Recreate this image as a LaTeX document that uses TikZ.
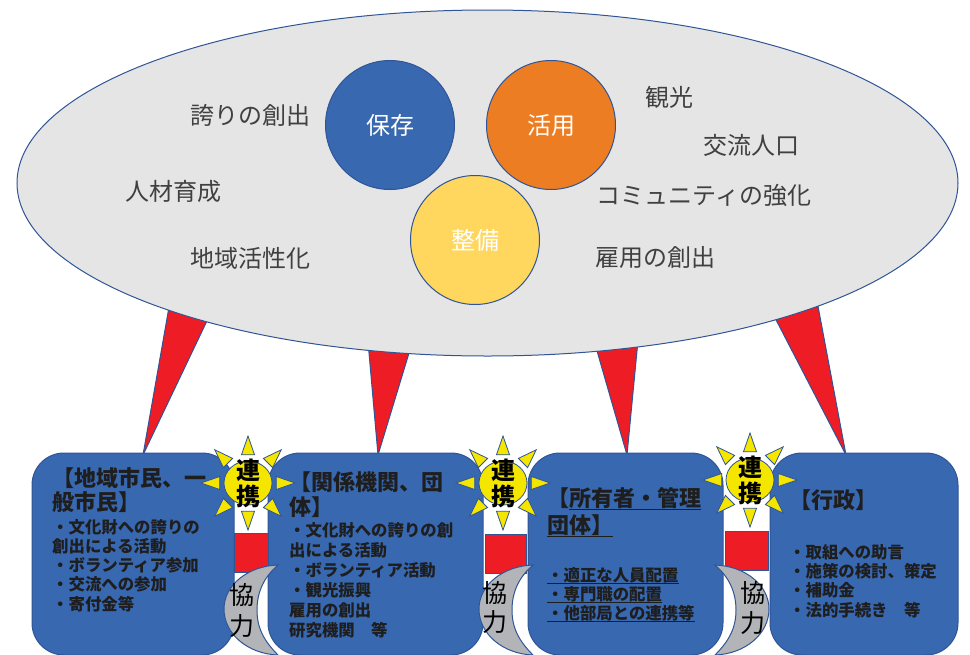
\documentclass[tikz,border=0pt]{standalone}
\usepackage{fontspec}
\setmainfont{Noto Sans CJK JP}
\definecolor{olc}{HTML}{2F5597}
\definecolor{bf}{HTML}{3868B0}
\definecolor{org}{HTML}{ED7D22}
\definecolor{ylw}{HTML}{FFD75E}
\definecolor{elg}{HTML}{E5E5E5}
\definecolor{rd}{HTML}{EE1C25}
\definecolor{sunc}{HTML}{F5E600}
\definecolor{mgr}{HTML}{B2B4B7}
\definecolor{gtx}{HTML}{404040}
\definecolor{btx}{HTML}{1E1E1E}
\newcommand{\fs}[1]{\fontsize{#1}{#1}\selectfont}
\newcommand{\drawsun}[3]{%
 \begin{scope}[shift={(#2,#3)}]
  \foreach \a in {0,45,...,315}{\draw[raysty] (\a:47) -- ({\a+13}:29) -- ({\a-13}:29) -- cycle;}
  \draw[raysty] (0,0) ellipse [x radius=24, y radius=22];
  \node[kan] (#1a) at (0,-13) {連};
  \node[kan] (#1b) at (0,13) {携};
 \end{scope}}
\newcommand{\drawmoon}[2]{%
 \begin{scope}[shift={(#1,0)}, xscale=#2]
  \draw[moonst] (0,565) .. controls (-30,566) and (-54,585) .. (-54,609)
   .. controls (-54,634) and (-30,654) .. (0,655)
   .. controls (-14,641) and (-21,628) .. (-21,610)
   .. controls (-21,592) and (-14,577) .. (0,565) -- cycle;
 \end{scope}}
\begin{document}
\begin{tikzpicture}[x=1pt,y=-1pt,
  olst/.style={draw=olc, line width=1pt},
  wedgest/.style={olst, fill=rd, line join=miter},
  boxst/.style={olst, fill=bf, rounded corners=32pt},
  cir/.style={circle, olst, minimum size=129pt, inner sep=0pt, text=white, font=\fs{24}, text height=21.1pt, text depth=2.9pt},
  etx/.style={inner sep=0pt, text=gtx, font=\fs{24}, text height=21.1pt, text depth=2.9pt},
  tl/.style={inner sep=0pt, anchor=west, text=btx, font=\fs{22}\bfseries, text height=19.4pt, text depth=2.6pt},
  bl/.style={inner sep=0pt, anchor=west, text=btx, font=\fs{16.4}\bfseries, text height=14.4pt, text depth=2pt},
  kan/.style={inner sep=0pt, text=black, font=\fs{24}\bfseries},
  kyo/.style={inner sep=0pt, text=black, font=\fs{25}},
  raysty/.style={olst, line width=0.8pt, fill=sunc},
  moonst/.style={olst, fill=mgr},
  redst/.style={draw=olc, line width=0.6pt, fill=rd},
  ul/.style={draw=btx, line width=0.8pt}
]
\useasboundingbox (0,0) rectangle (970,654);
% wedges
\draw[wedgest] (143,455) -- (172,290) -- (216,302) -- cycle;
\draw[wedgest] (378,455) -- (367,330) -- (416,330) -- cycle;
\draw[wedgest] (627,455) -- (591,330) -- (639,330) -- cycle;
\draw[wedgest] (846,455) -- (758,285) -- (814,285) -- cycle;
% ellipse
\draw[olst, fill=elg] (487.5,183) ellipse [x radius=470.5, y radius=173];
\node[cir, fill=bf] (hozon) at (390,125) {保存};
\node[cir, fill=org] (katsuyo) at (551,125) {活用};
\node[cir, fill=ylw] (seibi) at (475,240) {整備};
\node[etx] (e1) at (250,115) {誇りの創出};
\node[etx] (e2) at (173,191) {人材育成};
\node[etx] (e3) at (250,258) {地域活性化};
\node[etx] (e4) at (669,97) {観光};
\node[etx] (e5) at (751,145) {交流人口};
\node[etx] (e6) at (704,195) {コミュニティの強化};
\node[etx] (e7) at (655,257) {雇用の創出};
% boxes
\draw[boxst] (32,453) rectangle (234,655);
\draw[boxst] (268,453) rectangle (483,655);
\draw[boxst] (528,453) rectangle (723,655);
\draw[boxst] (770,453) rectangle (958,655);
% red bars
\draw[redst] (234,533) rectangle (268,572);
\draw[redst] (485,534) rectangle (526,573);
\draw[redst] (725,531) rectangle (768,570);
% box texts
\node[tl] (at1) at (52,478) {【地域市民、一};
\node[tl] (at2) at (52,502) {般市民】};
\foreach \t [count=\i] in {・文化財への誇りの, 創出による活動, ・ボランティア参加, ・交流への参加, ・寄付金等}
  \node[bl] (ab\i) at (52,{527+19.2*(\i-1)}) {\t};
\node[tl] (bt1) at (289,482) {【関係機関、団};
\node[tl] (bt2) at (289,507) {体】};
\foreach \t [count=\i] in {・文化財への誇りの創, 出による活動, ・ボランティア活動, ・観光振興, 雇用の創出, 研究機関　等}
  \node[bl] (bb\i) at (289,{530+20*(\i-1)}) {\t};
\node[tl] (ct1) at (547,498) {【所有者・管理};
\node[tl] (ct2) at (547,525) {団体】};
\draw[ul] ([xshift=22pt]ct1.south west) -- (ct1.south east);
\draw[ul] (ct2.south west) -- (ct2.south east);
\foreach \t [count=\i] in {・適正な人員配置, ・専門職の配置, ・他部局との連携等}{
  \node[bl] (cb\i) at (547,{575+19*(\i-1)}) {\t};
  \draw[ul] (cb\i.south west) -- (cb\i.south east);}
\node[tl] (dt1) at (789,500) {【行政】};
\foreach \t [count=\i] in {・取組への助言, ・施策の検討、策定, ・補助金, ・法的手続き　等}
  \node[bl] (db\i) at (789,{552+19.3*(\i-1)}) {\t};
% moons
\drawmoon{278}{1}
\drawmoon{533}{1}
\drawmoon{715}{-1}
\node[kyo] (m1a) at (242,595) {協};
\node[kyo] (m1b) at (242,626) {力};
\node[kyo] (m2a) at (495,593) {協};
\node[kyo] (m2b) at (495,622) {力};
\node[kyo] (m3a) at (753,593) {協};
\node[kyo] (m3b) at (753,623) {力};
% suns
\drawsun{s1}{248}{483}
\drawsun{s2}{503}{483}
\drawsun{s3}{750}{480}
\end{tikzpicture}
\end{document}
